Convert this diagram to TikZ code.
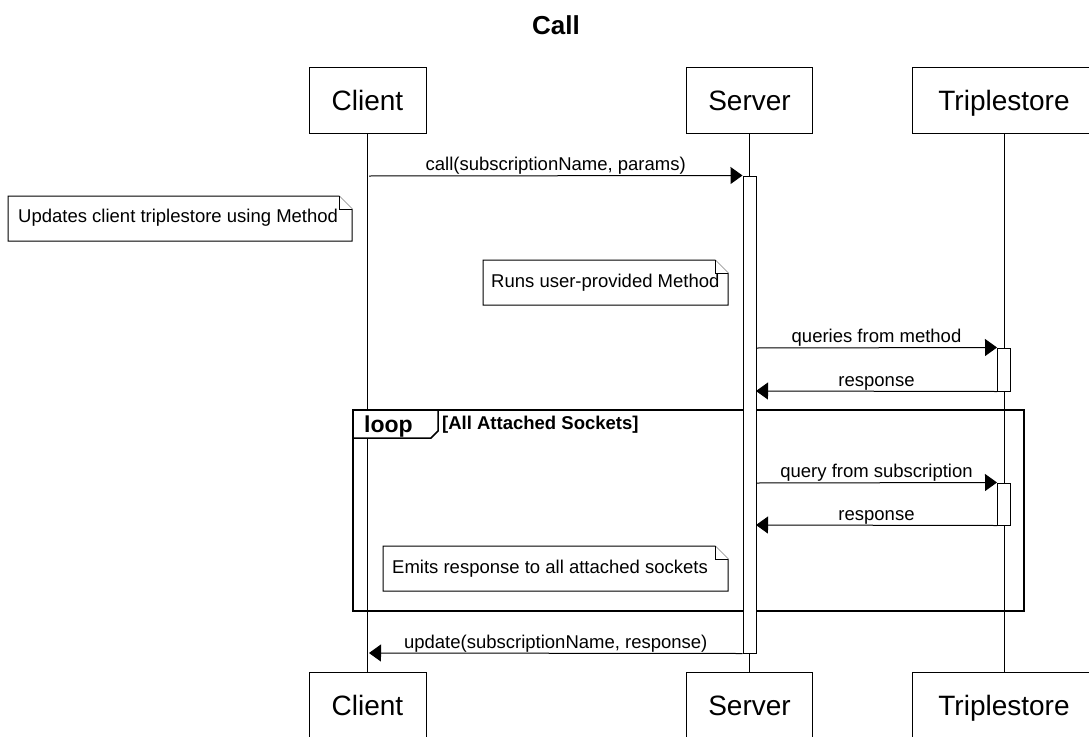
\documentclass[tikz,border=0pt]{standalone}
\usepackage{fontspec}
\setmainfont{Liberation Sans}
\usetikzlibrary{arrows.meta}
\newcommand{\dognote}[4]{% l, t, r, b
  \draw[notebox] (#1,#2) -- (#3-13,#2) -- (#3,#2+13) -- (#3,#4) -- (#1,#4) -- cycle;
  \draw[notebox] (#3-13,#2) -- (#3-13,#2+13) -- (#3,#2+13);
}
\begin{document}
\begin{tikzpicture}[x=1pt,y=-1pt,
  lane/.style={line width=1pt},
  pbox/.style={draw, line width=1pt, fill=white, minimum height=66pt, text height=20pt, text depth=0pt, inner sep=0pt, font=\fontsize{28}{30}\selectfont},
  actbox/.style={draw, line width=1pt, fill=white, minimum width=13pt, inner sep=0pt},
  msg/.style={line width=1pt, -{Triangle[length=12pt,width=17pt]}},
  mlabel/.style={font=\fontsize{18.5}{20}\selectfont, anchor=base, inner sep=0pt, yshift=5pt},
  ntext/.style={font=\fontsize{18.5}{20}\selectfont, anchor=base west, inner sep=0pt},
  notebox/.style={line width=1pt, fill=white},
  frame/.style={line width=2pt},
]
\useasboundingbox (0,0) rectangle (1089,736);

% title
\node[font=\bfseries\fontsize{26}{28}\selectfont, anchor=base, inner sep=0pt] (title) at (556,34) {Call};

% participants
\node[pbox, minimum width=117pt] (ct) at (367.5,100) {Client};
\node[pbox, minimum width=126pt] (st) at (749.5,100) {Server};
\node[pbox, minimum width=184pt] (tt) at (1004,100) {Triplestore};
\node[pbox, minimum width=117pt] (cb) at (367.5,705) {Client};
\node[pbox, minimum width=126pt] (sb) at (749.5,705) {Server};
\node[pbox, minimum width=184pt] (tb) at (1004,705) {Triplestore};

% lifelines
\draw[lane] (ct.south) -- (cb.north);
\draw[lane] (st.south) -- (sb.north);
\draw[lane] (tt.south) -- (tb.north);

% loop frame
\draw[frame] (353,410) rectangle (1024,611);
\draw[line width=1.5pt, fill=white] (353,410) -- (438,410) -- (438,431) -- (431,438) -- (353,438) -- cycle;
\node[font=\bfseries\fontsize{23}{25}\selectfont, anchor=base west, inner sep=0pt] (looplbl) at (364,432) {loop};
\node[font=\bfseries\fontsize{18.5}{20}\selectfont, anchor=base west, inner sep=0pt] (loopcond) at (442,429) {[All Attached Sockets]};

% activations
\node[actbox, minimum height=477pt] (sa) at (749.5,414.5) {};
\node[actbox, minimum height=43pt] (ta1) at (1004,369.5) {};
\node[actbox, minimum height=42pt] (ta2) at (1004,504) {};

% coordinates on lifelines
\coordinate (c1) at (369,176);
\coordinate (c2) at (369,653);
\coordinate (s1) at (756,348);
\coordinate (s2) at (756,391);
\coordinate (s3) at (756,483);
\coordinate (s4) at (756,525);

% messages
\draw[msg] (c1) -- node[mlabel] (m1) {call(subscriptionName, params)} (sa.north west);
\draw[msg] (s1) -- node[mlabel] (m2) {queries from method} (ta1.north west);
\draw[msg] (ta1.south west) -- node[mlabel] (m3) {response} (s2);
\draw[msg] (s3) -- node[mlabel] (m4) {query from subscription} (ta2.north west);
\draw[msg] (ta2.south west) -- node[mlabel] (m5) {response} (s4);
\draw[msg] (sa.south west) -- node[mlabel] (m6) {update(subscriptionName, response)} (c2);

% notes
\dognote{8}{196}{352}{241}
\node[ntext] (n1) at (18,222) {Updates client triplestore using Method};
\dognote{483}{260}{728}{305}
\node[ntext] (n2) at (491,287) {Runs user-provided Method};
\dognote{383}{546}{728}{591}
\node[ntext] (n3) at (392,573) {Emits response to all attached sockets};
\end{tikzpicture}
\end{document}
